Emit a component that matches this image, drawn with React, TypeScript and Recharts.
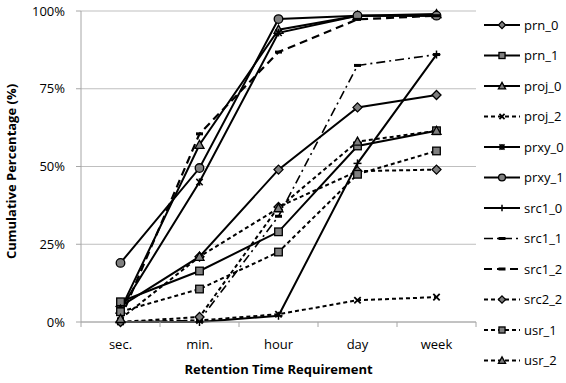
import React from 'react';
import { LineChart, Line, XAxis, YAxis, CartesianGrid } from 'recharts';

const categories = ['sec.', 'min.', 'hour', 'day', 'week'];
const yTicks = [0, 25, 50, 75, 100];

const prn_0 = [5, 21, 49, 69, 73];
const prn_1 = [6.5, 16.4, 29, 56.6, 61.5];
const proj_0 = [4, 57, 94, 98.5, 99];
const proj_2 = [0, 0.5, 2.5, 7, 8];
const prxy_0 = [4, 45, 93, 98.5, 98.5];
const prxy_1 = [19, 49.5, 97.4, 98.5, 98.5];
const src1_0 = [0, 0, 2, 51, 86];
const src1_1 = [0, 0.5, 34, 82.5, 86];
const src1_2 = [1, 60.5, 86.8, 97.3, 98.5];
const src2_2 = [0, 1.6, 37, 48.5, 49];
const usr_1 = [3.3, 10.6, 22.5, 47.5, 55];
const usr_2 = [1, 21, 36.6, 58, 61.5];

const seriesNames = ['prn_0', 'prn_1', 'proj_0', 'proj_2', 'prxy_0', 'prxy_1', 'src1_0', 'src1_1', 'src1_2', 'src2_2', 'usr_1', 'usr_2'];
const seriesValues = [prn_0, prn_1, proj_0, proj_2, prxy_0, prxy_1, src1_0, src1_1, src1_2, src2_2, usr_1, usr_2];

const styles: Record<string, { shape: string; dash?: string; width: number }> = {
  prn_0: { shape: 'diamond', width: 2 },
  prn_1: { shape: 'square', width: 2 },
  proj_0: { shape: 'triangle', width: 2 },
  proj_2: { shape: 'x', dash: '4 3', width: 2 },
  prxy_0: { shape: 'star', width: 2 },
  prxy_1: { shape: 'circle', width: 2 },
  src1_0: { shape: 'plus', width: 2 },
  src1_1: { shape: 'dash', dash: '9 4 2 4', width: 1.6 },
  src1_2: { shape: 'dash', dash: '8 5', width: 2.2 },
  src2_2: { shape: 'diamond', dash: '4 3', width: 2 },
  usr_1: { shape: 'square', dash: '4 3', width: 2 },
  usr_2: { shape: 'triangle', dash: '4 3', width: 2 },
};

const data = categories.map((c, i) => {
  const row: Record<string, number | string> = { x: i + 0.5, cat: c };
  seriesNames.forEach((n, k) => {
    row[n] = seriesValues[k][i];
  });
  return row;
});

const FONT = "'Open Sans', sans-serif";

function Marker({ shape, cx, cy, s = 1 }: { shape: string; cx: number; cy: number; s?: number }) {
  const fill = '#7f7f7f';
  const stroke = '#000';
  const sw = 1.3;
  if (cx == null || cy == null || isNaN(cx) || isNaN(cy)) return <g />;
  switch (shape) {
    case 'diamond': {
      const r = 4.5 * s;
      return <polygon points={`${cx},${cy - r} ${cx + r},${cy} ${cx},${cy + r} ${cx - r},${cy}`} fill={fill} stroke={stroke} strokeWidth={sw} />;
    }
    case 'square': {
      const r = 3.8 * s;
      return <rect x={cx - r} y={cy - r} width={2 * r} height={2 * r} fill={fill} stroke={stroke} strokeWidth={sw} />;
    }
    case 'triangle': {
      const r = 4.5 * s;
      return <polygon points={`${cx},${cy - r} ${cx + r},${cy + r * 0.8} ${cx - r},${cy + r * 0.8}`} fill={fill} stroke={stroke} strokeWidth={sw} />;
    }
    case 'x': {
      const r = 3.2 * s;
      return (
        <g stroke={stroke} strokeWidth={1.8}>
          <line x1={cx - r} y1={cy - r} x2={cx + r} y2={cy + r} />
          <line x1={cx - r} y1={cy + r} x2={cx + r} y2={cy - r} />
        </g>
      );
    }
    case 'star': {
      const r = 3.2 * s;
      return (
        <g stroke={stroke} strokeWidth={1.6}>
          <line x1={cx - r} y1={cy - r} x2={cx + r} y2={cy + r} />
          <line x1={cx - r} y1={cy + r} x2={cx + r} y2={cy - r} />
          <line x1={cx} y1={cy - r - 0.5} x2={cx} y2={cy + r + 0.5} />
        </g>
      );
    }
    case 'circle':
      return <circle cx={cx} cy={cy} r={4.3 * s} fill={fill} stroke={stroke} strokeWidth={sw} />;
    case 'plus': {
      const r = 4 * s;
      return (
        <g stroke={stroke} strokeWidth={1.5}>
          <line x1={cx} y1={cy - r} x2={cx} y2={cy + r} />
          <line x1={cx - r} y1={cy} x2={cx + r} y2={cy} />
        </g>
      );
    }
    case 'dash':
      return <rect x={cx - 3.5} y={cy - 1.5} width={7} height={3} fill={stroke} />;
    default:
      return <g />;
  }
}

function XTick(props: any) {
  const { x, y, payload } = props;
  const v = payload.value as number;
  if (Number.isInteger(v)) {
    return <line x1={x} y1={y} x2={x} y2={y + 5} stroke="#a6a6a6" strokeWidth={1} />;
  }
  const idx = Math.floor(v);
  return (
    <text x={x} y={y + 27} textAnchor="middle" fontFamily={FONT} fontSize={13} fill="#000">
      {categories[idx]}
    </text>
  );
}

const xTickVals = [0, 0.5, 1, 1.5, 2, 2.5, 3, 3.5, 4, 4.5, 5];

export default function App() {
  return (
    <div style={{ position: 'absolute', left: 0, top: 0, width: 566, height: 383, background: '#fff' }}>
      <LineChart width={566} height={383} data={data} margin={{ top: 11, right: 90, bottom: 0, left: 0 }}>
        <CartesianGrid vertical={false} stroke="#bfbfbf" strokeWidth={1} />
        <XAxis
          dataKey="x"
          type="number"
          domain={[0, 5]}
          ticks={xTickVals}
          interval={0}
          height={61}
          tickLine={false}
          tickSize={0}
          tickMargin={0}
          tick={<XTick />}
          axisLine={{ stroke: '#a6a6a6' }}
          label={{
            content: (p: any) => {
              const vb = p.viewBox;
              return (
                <text x={vb.x + vb.width / 2} y={374} textAnchor="middle" fontFamily={FONT} fontSize={13} fontWeight="bold" fill="#000">
                  Retention Time Requirement
                </text>
              );
            },
          }}
        />
        <YAxis
          type="number"
          domain={[0, 100]}
          ticks={yTicks}
          interval={0}
          width={81}
          tickSize={5}
          tickMargin={11}
          tickLine={{ stroke: '#a6a6a6' }}
          axisLine={{ stroke: '#a6a6a6' }}
          tickFormatter={(v: number) => `${v}%`}
          tick={{ fontFamily: FONT, fontSize: 13, fill: '#000' }}
          label={{
            content: (p: any) => {
              const vb = p.viewBox;
              const cy = vb.y + vb.height / 2 + 5;
              return (
                <text x={16} y={cy} transform={`rotate(-90 16 ${cy})`} textAnchor="middle" fontFamily={FONT} fontSize={13} fontWeight="bold" fill="#000">
                  Cumulative Percentage (%)
                </text>
              );
            },
          }}
        />
        {seriesNames.map((n) => {
          const st = styles[n];
          return (
            <Line
              key={n}
              dataKey={n}
              type="linear"
              stroke="#000"
              strokeWidth={st.width}
              strokeDasharray={st.dash}
              isAnimationActive={false}
              dot={(p: any) => <Marker key={`${n}-${p.index}`} shape={st.shape} cx={p.cx} cy={p.cy} />}
              activeDot={false}
            />
          );
        })}
      </LineChart>
      <svg width={566} height={383} style={{ position: 'absolute', left: 0, top: 0, pointerEvents: 'none' }}>
        {seriesNames.map((n, i) => {
          const st = styles[n];
          const y = 25 + i * 30.5;
          return (
            <g key={n}>
              <line x1={484} y1={y} x2={520} y2={y} stroke="#000" strokeWidth={st.width} strokeDasharray={st.dash} />
              <Marker shape={st.shape} cx={502} cy={y} s={0.8} />
              <text x={524} y={y + 4.5} fontFamily={FONT} fontSize={13} fill="#000">
                {n}
              </text>
            </g>
          );
        })}
      </svg>
    </div>
  );
}
